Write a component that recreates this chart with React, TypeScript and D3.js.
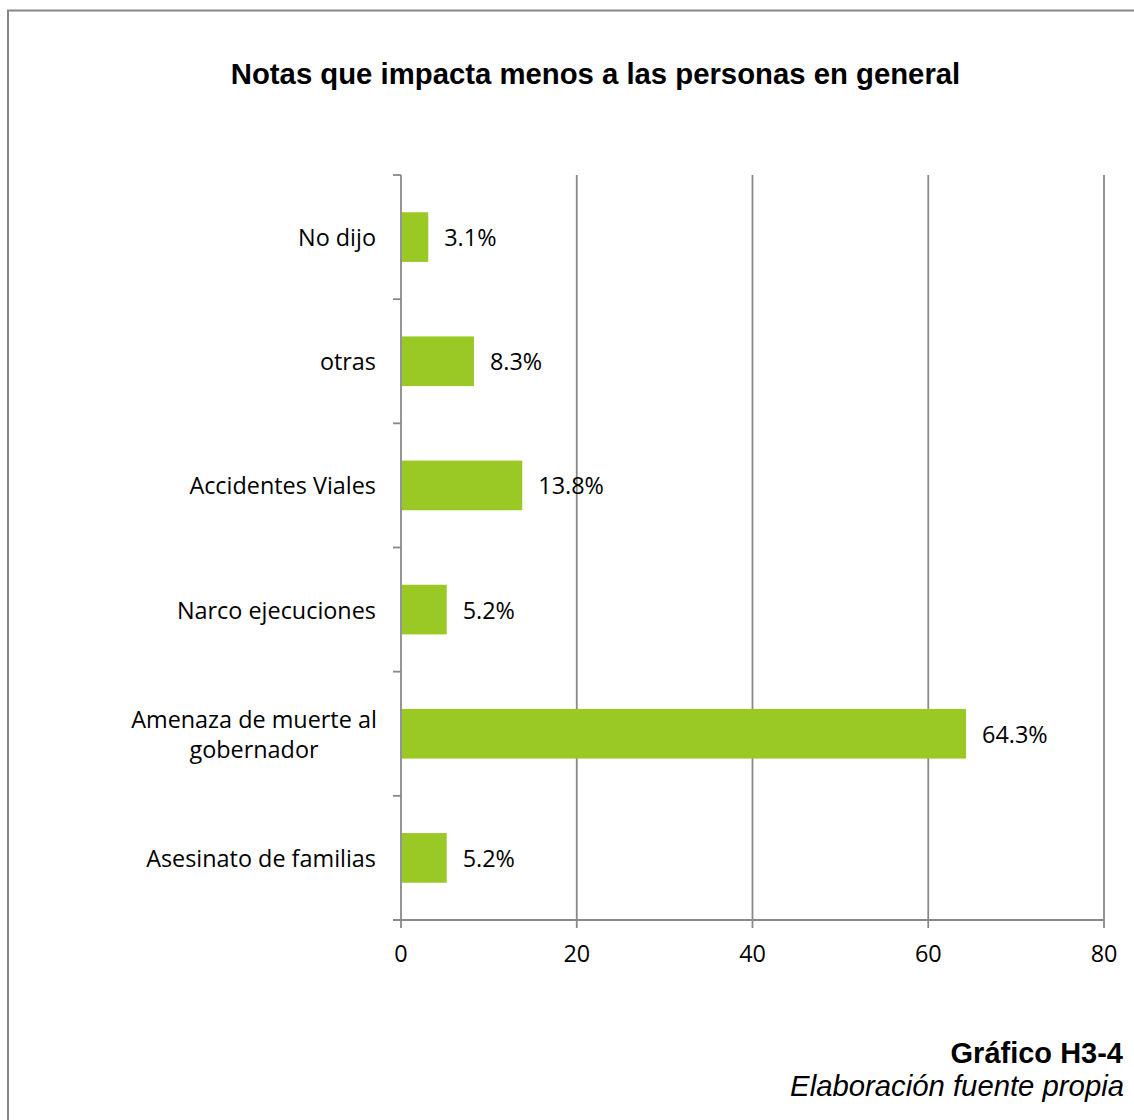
import React from "react";
import * as d3 from "d3";

const categories: string[][] = [
  ["No dijo"],
  ["otras"],
  ["Accidentes Viales"],
  ["Narco ejecuciones"],
  ["Amenaza de muerte al", "gobernador"],
  ["Asesinato de familias"],
];
const values = [3.1, 8.3, 13.8, 5.2, 64.3, 5.2];
const xTicks = [0, 20, 40, 60, 80];
const title = "Notas que impacta menos a las personas en general";
const caption1 = "Gráfico H3-4";
const caption2 = "Elaboración fuente propia";

const W = 1134;
const H = 1120;
const plot = { left: 401, right: 1104, top: 175, bottom: 920 };
const BAR = "#9AC824";
const GRID = "#898989";
const LABEL_FONT = "'Open Sans', 'Noto Sans', sans-serif";
const LFS = 23.4;

export default function App() {
  const x = d3.scaleLinear().domain([0, 80]).range([plot.left, plot.right]);
  const idx = categories.map((_, i) => i);
  const y = d3
    .scaleBand<number>()
    .domain(idx)
    .range([plot.top, plot.bottom])
    .paddingInner(0.6)
    .paddingOuter(0.3);
  const step = (plot.bottom - plot.top) / categories.length;
  const boundaries = d3.range(categories.length + 1).map((i) => plot.top + i * step);

  return (
    <svg
      width={W}
      height={H}
      style={{ position: "absolute", left: 0, top: 0, display: "block" }}
    >
      <rect x={0} y={0} width={W} height={H} fill="#fff" />
      <path d={`M8,${H + 5}V10.5H${W + 5}`} fill="none" stroke="#878787" strokeWidth={2} />
      <text
        x={595.5}
        y={84}
        textAnchor="middle"
        fontFamily="'Liberation Sans', Arial, sans-serif"
        fontWeight="bold"
        fontSize={29.3}
        fill="#000"
      >
        {title}
      </text>

      {/* gridlines */}
      {xTicks.slice(1).map((t) => (
        <line
          key={"g" + t}
          x1={x(t)}
          x2={x(t)}
          y1={plot.top}
          y2={plot.bottom + 8}
          stroke={GRID}
          strokeWidth={1.8}
        />
      ))}
      {/* x axis */}
      <line x1={plot.left - 8} x2={plot.right} y1={plot.bottom} y2={plot.bottom} stroke={GRID} strokeWidth={1.8} />
      <line x1={plot.left} x2={plot.left} y1={plot.bottom} y2={plot.bottom + 8} stroke={GRID} strokeWidth={1.8} />
      {/* y axis */}
      <line x1={plot.left} x2={plot.left} y1={plot.top} y2={plot.bottom} stroke={GRID} strokeWidth={1.8} />
      {boundaries.map((b, i) => (
        <line key={"yt" + i} x1={plot.left - 8} x2={plot.left} y1={b} y2={b} stroke={GRID} strokeWidth={1.8} />
      ))}

      {/* bars */}
      {values.map((v, i) => (
        <rect
          key={"b" + i}
          x={x(0) + 1}
          y={y(i)!}
          width={x(v) - x(0) - 1}
          height={y.bandwidth()}
          fill={BAR}
        />
      ))}
      {/* value labels */}
      {values.map((v, i) => (
        <text
          key={"v" + i}
          x={x(v) + 16}
          y={y(i)! + y.bandwidth() / 2 + 9}
          fontFamily={LABEL_FONT}
          fontSize={LFS}
          fill="#000"
        >
          {v.toFixed(1) + "%"}
        </text>
      ))}
      {/* category labels */}
      {categories.map((lines, i) => {
        const cy = y(i)! + y.bandwidth() / 2;
        const lh = 30;
        const start = cy + 9 - ((lines.length - 1) * lh) / 2;
        return (
          <text
            key={"c" + i}
            x={376}
            textAnchor={lines.length > 1 ? "middle" : "end"}
            fontFamily={LABEL_FONT}
            fontSize={LFS}
            fill="#000"
          >
            {lines.map((ln, j) => (
              <tspan key={j} x={lines.length > 1 ? 254 : 376} y={start + j * lh}>
                {ln}
              </tspan>
            ))}
          </text>
        );
      })}
      {/* x tick labels */}
      {xTicks.map((t) => (
        <text
          key={"xt" + t}
          x={x(t)}
          y={962}
          textAnchor="middle"
          fontFamily={LABEL_FONT}
          fontSize={LFS}
          fill="#000"
        >
          {t}
        </text>
      ))}

      <text
        x={1123}
        y={1063}
        textAnchor="end"
        fontFamily="'Liberation Sans', Arial, sans-serif"
        fontWeight="bold"
        fontSize={29}
        fill="#000"
      >
        {caption1}
      </text>
      <text
        x={1124}
        y={1096}
        textAnchor="end"
        fontFamily="'Liberation Sans', Arial, sans-serif"
        fontStyle="italic"
        fontSize={29.3}
        fill="#000"
      >
        {caption2}
      </text>
    </svg>
  );
}
